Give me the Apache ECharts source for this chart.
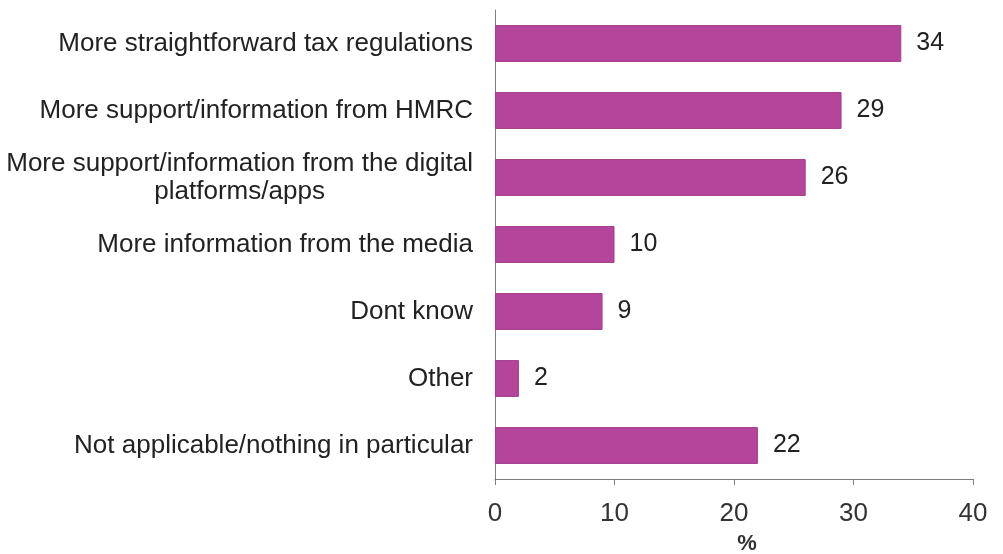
<!DOCTYPE html>
<html>
<head>
<meta charset="utf-8">
<script src="https://cdn.jsdelivr.net/npm/echarts@6/dist/echarts.min.js"></script>
<style>
  html, body { margin: 0; padding: 0; background: #ffffff; }
  #chart { width: 1003px; height: 554px; }
</style>
</head>
<body>
<div id="chart"></div>
<script>
// Responses, top to bottom
const categories = [
  'More straightforward tax regulations',
  'More support/information from HMRC',
  'More support/information from the digital\nplatforms/apps',
  'More information from the media',
  'Dont know',
  'Other',
  'Not applicable/nothing in particular'
];
// Share of respondents (%)
const values = [34, 29, 26, 10, 9, 2, 22];
// Horizontal axis ticks
const xTicks = [0, 10, 20, 30, 40];

const FONT = '"Liberation Sans", Arial, sans-serif';

const chart = echarts.init(document.getElementById('chart'), null, { renderer: 'canvas' });

chart.setOption({
  animation: false,
  backgroundColor: '#ffffff',
  grid: { left: 495, right: 30, top: 10, bottom: 75, containLabel: false, outerBoundsMode: 'none' },
  xAxis: {
    type: 'value',
    min: xTicks[0],
    max: xTicks[xTicks.length - 1],
    interval: xTicks[1] - xTicks[0],
    name: '%',
    nameLocation: 'middle',
    nameGap: 54,
    nameTextStyle: { fontFamily: FONT, fontSize: 22, fontWeight: 'bold', color: '#333', padding: [0, 0, 0, 26] },
    axisLine: { show: true, lineStyle: { color: '#7f7f7f', width: 1 } },
    axisTick: { show: true, length: 6, lineStyle: { color: '#7f7f7f' } },
    axisLabel: { fontFamily: FONT, fontSize: 26, color: '#333', margin: 22 },
    splitLine: { show: false }
  },
  yAxis: {
    type: 'category',
    inverse: true,
    data: categories,
    axisLine: { show: true, lineStyle: { color: '#7f7f7f', width: 1 } },
    axisTick: { show: false },
    axisLabel: {
      fontFamily: FONT,
      fontSize: 26,
      color: '#222',
      margin: 22,
      lineHeight: 28,
      formatter: function (v) {
        return v.split('\n').map(function (s) { return '{c|' + s + '}'; }).join('\n');
      },
      rich: { c: { fontFamily: FONT, fontSize: 26, color: '#222', lineHeight: 28, align: 'center' } }
    }
  },
  series: [{
    type: 'bar',
    data: values,
    barCategoryGap: '45%',
    itemStyle: { color: '#b5449b', borderColor: '#a23d8b', borderWidth: 1 },
    label: {
      show: true,
      position: 'right',
      distance: 15,
      fontFamily: FONT,
      fontSize: 25,
      color: '#222'
    }
  }]
});
</script>
</body>
</html>
